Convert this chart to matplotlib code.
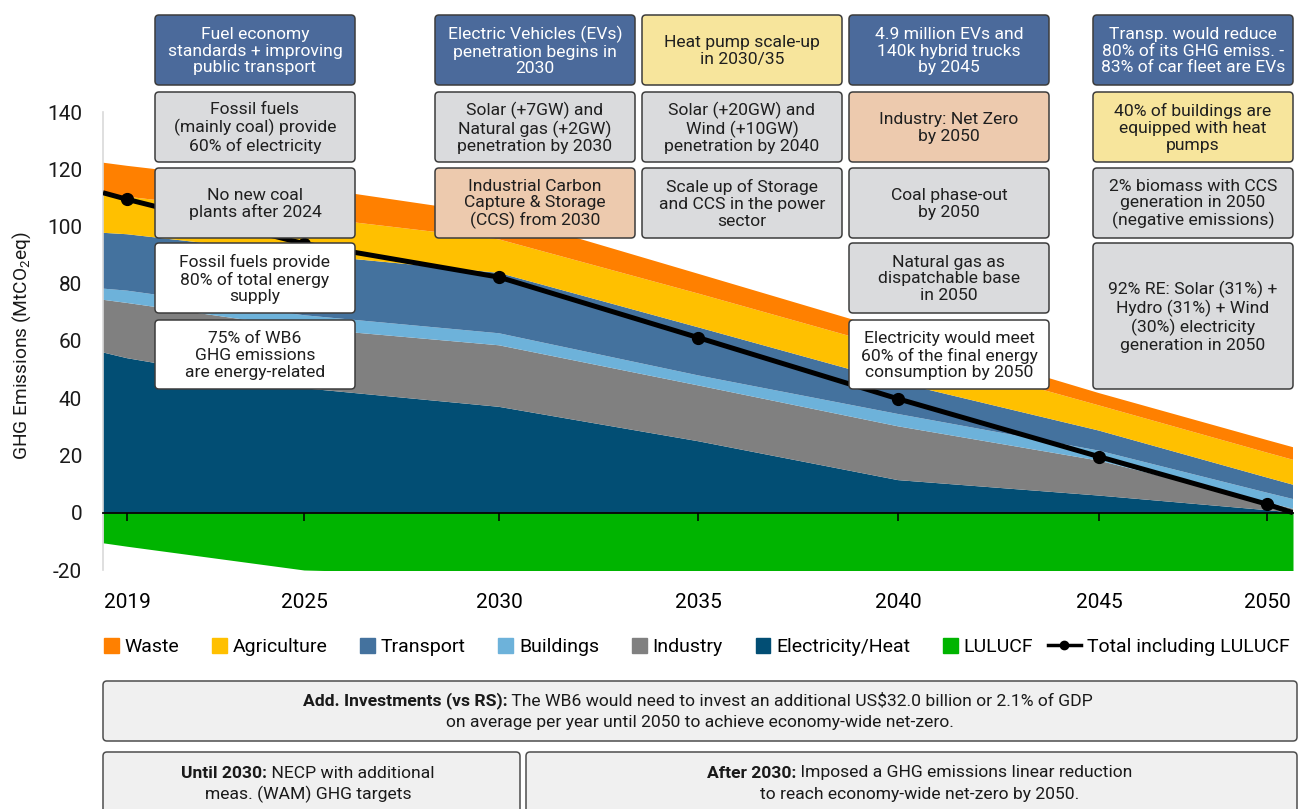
import numpy as np
import matplotlib
matplotlib.use("Agg")
import matplotlib.pyplot as plt
from matplotlib.patches import FancyBboxPatch, Patch, Rectangle
from matplotlib.lines import Line2D
from matplotlib.legend_handler import HandlerPatch

plt.rcParams['font.family'] = ['Roboto', 'DejaVu Sans']
plt.rcParams['mathtext.fontset'] = 'custom'
plt.rcParams['mathtext.rm'] = 'Roboto'
plt.rcParams['mathtext.it'] = 'Roboto:italic'
plt.rcParams['mathtext.bf'] = 'Roboto:bold'
plt.rcParams['axes.unicode_minus'] = False

# --- data (MtCO2eq); first and last entries are the values at the plot edges ---
years = [2018, 2019, 2025, 2030, 2035, 2040, 2045, 2050, 2051]
tick_years = [2019, 2025, 2030, 2035, 2040, 2045, 2050]
electricity = [56, 54, 43.5, 37, 25, 11.4, 6, 0.9, 0.1]
industry = [18.4, 19.3, 21, 21.5, 19.5, 18.8, 12.2, 2.7, 1.3]
buildings = [3.9, 4.3, 4.5, 4.2, 3.5, 4.3, 3.5, 3.4, 3.4]
transport = [19.5, 19.7, 21.3, 21.1, 16.8, 11, 7, 5.3, 5.0]
agriculture = [13.2, 13.1, 13.2, 11.7, 11.8, 11.5, 8.8, 8.7, 8.7]
waste = [11.3, 10.8, 10.5, 8.5, 6.9, 5.8, 4.3, 4.4, 4.4]
lulucf = [-10.5, -11.7, -20, -21.7, -22.3, -23, -22.2, -22.4, -22.9]
total = [111.8, 109.5, 94, 82.3, 61.2, 39.8, 19.6, 3.0, 0]

C_WASTE = '#ff8000'
C_AGRI = '#ffc000'
C_TRANS = '#44729e'
C_BUILD = '#6db2da'
C_IND = '#808080'
C_ELEC = '#024e74'
C_LULUCF = '#00b400'

DKBLUE = '#4b6a9b'
GREY = '#dadbdd'
PEACH = '#edcaae'
YELLOW = '#f7e59c'
WHITE = '#ffffff'

W, H = 1299, 809
fig = plt.figure(figsize=(W / 100, H / 100), dpi=100)
ax = fig.add_axes([103 / W, 1 - 570 / H, (1293 - 103) / W, (570 - 112) / H])

# category-like year axis: uneven spacing as in the original
axis_px = [103, 127, 304, 499, 698, 898, 1099, 1267, 1293]
fwd = lambda x: np.interp(x, years, axis_px)
inv = lambda p: np.interp(p, axis_px, years)
ax.set_xscale('function', functions=(fwd, inv))

ax.stackplot(years, electricity, industry, buildings, transport, agriculture, waste,
             colors=[C_ELEC, C_IND, C_BUILD, C_TRANS, C_AGRI, C_WASTE], lw=0)
ax.fill_between(years, 0, lulucf, color=C_LULUCF, lw=0)
ax.plot(years, total, color='black', lw=3.6, marker='o', ms=8.5,
        markevery=list(range(1, 8)), solid_capstyle='butt', zorder=5)

ax.set_xlim(2018, 2051)
ax.set_ylim(-20, 140)
ax.set_yticks(range(-20, 141, 20))
ax.set_xticks(tick_years)
ax.set_xticklabels([str(y) for y in tick_years])
ax.tick_params(axis='y', length=0, pad=15, labelsize=15, colors='#1a1a1a')
ax.tick_params(axis='x', length=6, width=1.1, direction='out', pad=52,
               labelsize=15, colors='black')
ax.spines['top'].set_visible(False)
ax.spines['right'].set_visible(False)
ax.spines['left'].set_color('#d9d9d9')
ax.spines['left'].set_linewidth(1.2)
ax.spines['bottom'].set_position(('data', 0))
ax.spines['bottom'].set_linewidth(1.3)
ax.spines['bottom'].set_zorder(4)
ax.patch.set_visible(False)

fig.text(0.017, 1 - 346 / H, 'GHG Emissions (MtCO$_2$eq)', rotation=90,
         ha='center', va='center', fontsize=13.8, color='#1a1a1a')

# --- legend ---
def square(legend, orig_handle, xdescent, ydescent, width, height, fontsize):
    return Rectangle((-xdescent + width - height, -ydescent), height, height)

handles = [Patch(color=C_WASTE), Patch(color=C_AGRI), Patch(color=C_TRANS),
           Patch(color=C_BUILD), Patch(color=C_IND), Patch(color=C_ELEC),
           Patch(color=C_LULUCF),
           Line2D([], [], color='black', lw=2.5, marker='o', ms=6)]
labels = ['Waste', 'Agriculture', 'Transport', 'Buildings', 'Industry',
          'Electricity/Heat', 'LULUCF', 'Total including LULUCF']
fig.legend(handles, labels, loc='center', ncol=8, mode='expand', frameon=False,
           bbox_to_anchor=(68 / W, 1 - 647 / H, (1307 - 68) / W, 0),
           fontsize=14, handlelength=1.7, handleheight=0.8, handletextpad=0.3,
           handler_map={Patch: HandlerPatch(patch_func=square)})

# --- annotation boxes (overlay in pixel coordinates) ---
ov = fig.add_axes([0, 0, 1, 1])
ov.set_xlim(0, W)
ov.set_ylim(H, 0)
ov.axis('off')
ov.set_zorder(3)

boxes = [
    (155, 15, 355, 85, DKBLUE, "Fuel economy\nstandards + improving\npublic transport"),
    (155, 92, 355, 162, GREY, "Fossil fuels\n(mainly coal) provide\n60% of electricity"),
    (155, 168, 355, 238, GREY, "No new coal\nplants after 2024"),
    (155, 243, 355, 313, WHITE, "Fossil fuels provide\n80% of total energy\nsupply"),
    (155, 320, 355, 389, WHITE, "75% of WB6\nGHG emissions\nare energy-related"),
    (435, 15, 635, 85, DKBLUE, "Electric Vehicles (EVs)\npenetration begins in\n2030"),
    (435, 92, 635, 162, GREY, "Solar (+7GW) and\nNatural gas (+2GW)\npenetration by 2030"),
    (435, 168, 635, 238, PEACH, "Industrial Carbon\nCapture & Storage\n(CCS) from 2030"),
    (642, 15, 842, 85, YELLOW, "Heat pump scale-up\nin 2030/35"),
    (642, 92, 842, 162, GREY, "Solar (+20GW) and\nWind (+10GW)\npenetration by 2040"),
    (642, 168, 842, 238, GREY, "Scale up of Storage\nand CCS in the power\nsector"),
    (849, 15, 1049, 85, DKBLUE, "4.9 million EVs and\n140k hybrid trucks\nby 2045"),
    (849, 92, 1049, 162, PEACH, "Industry: Net Zero\nby 2050"),
    (849, 168, 1049, 238, GREY, "Coal phase-out\nby 2050"),
    (849, 243, 1049, 313, GREY, "Natural gas as\ndispatchable base\nin 2050"),
    (849, 320, 1049, 389, WHITE, "Electricity would meet\n60% of the final energy\nconsumption by 2050"),
    (1093, 15, 1293, 85, DKBLUE, "Transp. would reduce\n80% of its GHG emiss. -\n83% of car fleet are EVs"),
    (1093, 92, 1293, 162, YELLOW, "40% of buildings are\nequipped with heat\npumps"),
    (1093, 168, 1293, 238, GREY, "2% biomass with CCS\ngeneration in 2050\n(negative emissions)"),
    (1093, 243, 1293, 389, GREY, "92% RE: Solar (31%) +\nHydro (31%) + Wind\n(30%) electricity\ngeneration in 2050"),
]

for x0, y0, x1, y1, fc, txt in boxes:
    ov.add_patch(FancyBboxPatch((x0, y0), x1 - x0, y1 - y0,
                                boxstyle='round,pad=0,rounding_size=4',
                                fc=fc, ec='#3c3c3c', lw=1.1))
    tc = 'white' if fc == DKBLUE else '#1f1f1f'
    ov.text((x0 + x1) / 2, (y0 + y1) / 2 + 1, txt, ha='center', va='center',
            fontsize=12.6, linespacing=1.13, color=tc)

# --- bottom notes ---
notes = [
    (103, 681, 1297, 741),
    (103, 752, 520, 830),
    (526, 752, 1297, 830),
]
for x0, y0, x1, y1 in notes:
    ov.add_patch(FancyBboxPatch((x0, y0), x1 - x0, y1 - y0,
                                boxstyle='round,pad=0,rounding_size=4',
                                fc='#f0f0f0', ec='#4d4d4d', lw=1.1))

renderer = fig.canvas.get_renderer()
NOTE_FS = 12.6


def mixed_line(cx, cy, bold, rest, fs=NOTE_FS):
    t1 = ov.text(0, cy, bold, fontweight='bold', fontsize=fs, ha='left',
                 va='center', color='#1a1a1a')
    t2 = ov.text(0, cy, rest, fontsize=fs, ha='left', va='center', color='#1a1a1a')
    w1 = t1.get_window_extent(renderer).width
    w2 = t2.get_window_extent(renderer).width
    start = cx - (w1 + w2) / 2
    t1.set_x(start)
    t2.set_x(start + w1)


mixed_line(698, 701, 'Add. Investments (vs RS):',
           ' The WB6 would need to invest an additional US$32.0 billion or 2.1% of GDP')
ov.text(700, 722, 'on average per year until 2050 to achieve economy-wide net-zero.',
        ha='center', va='center', fontsize=NOTE_FS, color='#1a1a1a')
mixed_line(308, 773, 'Until 2030:', ' NECP with additional')
ov.text(308, 794, 'meas. (WAM) GHG targets', ha='center', va='center',
        fontsize=NOTE_FS, color='#1a1a1a')
mixed_line(920, 773, 'After 2030:', ' Imposed a GHG emissions linear reduction')
ov.text(920, 794, 'to reach economy-wide net-zero by 2050.', ha='center', va='center',
        fontsize=NOTE_FS, color='#1a1a1a')

fig.savefig('out.png', dpi=100)
